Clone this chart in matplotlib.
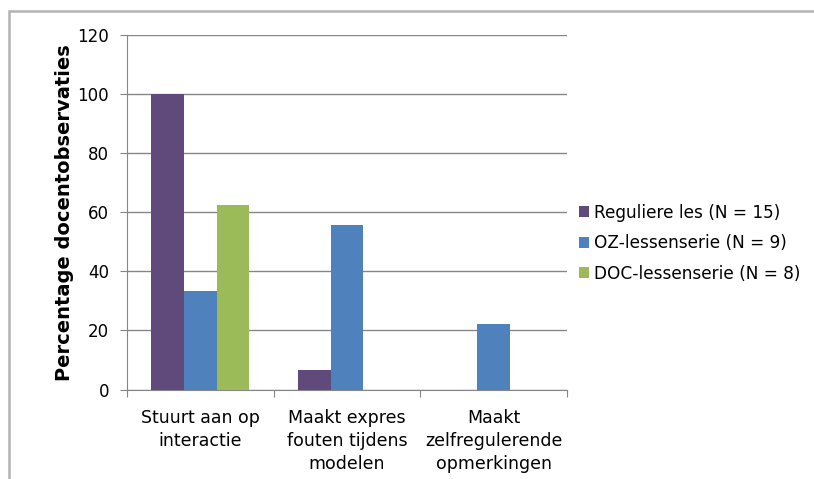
import numpy as np
import matplotlib
matplotlib.use("Agg")
import matplotlib.pyplot as plt
from matplotlib.patches import Rectangle

categories = ["Stuurt aan op\ninteractie",
              "Maakt expres\nfouten tijdens\nmodelen",
              "Maakt\nzelfregulerende\nopmerkingen"]
series_names = ["Reguliere les (N = 15)",
                "OZ-lessenserie (N = 9)",
                "DOC-lessenserie (N = 8)"]
regulier = [100.0, 6.7, 0.0]
oz = [33.3, 55.6, 22.2]
doc = [62.5, 0.0, 0.0]
colors = ["#604A7B", "#4F81BD", "#9BBB59"]
y_ticks = [0, 20, 40, 60, 80, 100, 120]

plt.rcParams["font.family"] = "DejaVu Sans"
grid_col = "#868686"

fig = plt.figure(figsize=(8.14, 4.79), dpi=100)
ax = fig.add_axes([0.156, 0.1868, 0.5405, 0.740])

x = np.arange(len(categories))
w = 0.222
for i, (vals, name) in enumerate(zip([regulier, oz, doc], series_names)):
    ax.bar(x + (i - 1) * w, vals, width=w, color=colors[i], label=name, zorder=3)

ax.set_xlim(-0.5, 2.5)
ax.set_ylim(0, 120)
ax.set_yticks(y_ticks)
ax.tick_params(axis="y", labelsize=12, length=5, color=grid_col, pad=8)
ax.grid(axis="y", color=grid_col, linewidth=1, zorder=0)

# category separators on the x axis
ax.set_xticks([-0.5, 0.5, 1.5, 2.5])
ax.set_xticklabels([])
ax.tick_params(axis="x", length=5, color=grid_col)
ax.set_xticks(x, minor=True)
ax.set_xticklabels(categories, minor=True, fontsize=12.5, linespacing=1.35)
ax.tick_params(axis="x", which="minor", length=0, pad=14)

for side in ["top", "right"]:
    ax.spines[side].set_visible(False)
for side in ["left", "bottom"]:
    ax.spines[side].set_color(grid_col)

ax.set_ylabel("Percentage docentobservaties", fontsize=14, fontweight="bold", labelpad=2)

leg = fig.legend(loc="upper left", bbox_to_anchor=(0.703, 0.589), frameon=False,
                 fontsize=12.2, handlelength=0.6, handleheight=0.6,
                 handletextpad=0.3, labelspacing=0.74, borderaxespad=0)

# outer chart frame
fig.patches.append(Rectangle((9 / 814, -0.1), 1.1, 1 - 10.5 / 479 + 0.1,
                             transform=fig.transFigure, fill=False,
                             edgecolor="#B3B3B3", linewidth=1.8))

fig.savefig("out.png", dpi=100)
